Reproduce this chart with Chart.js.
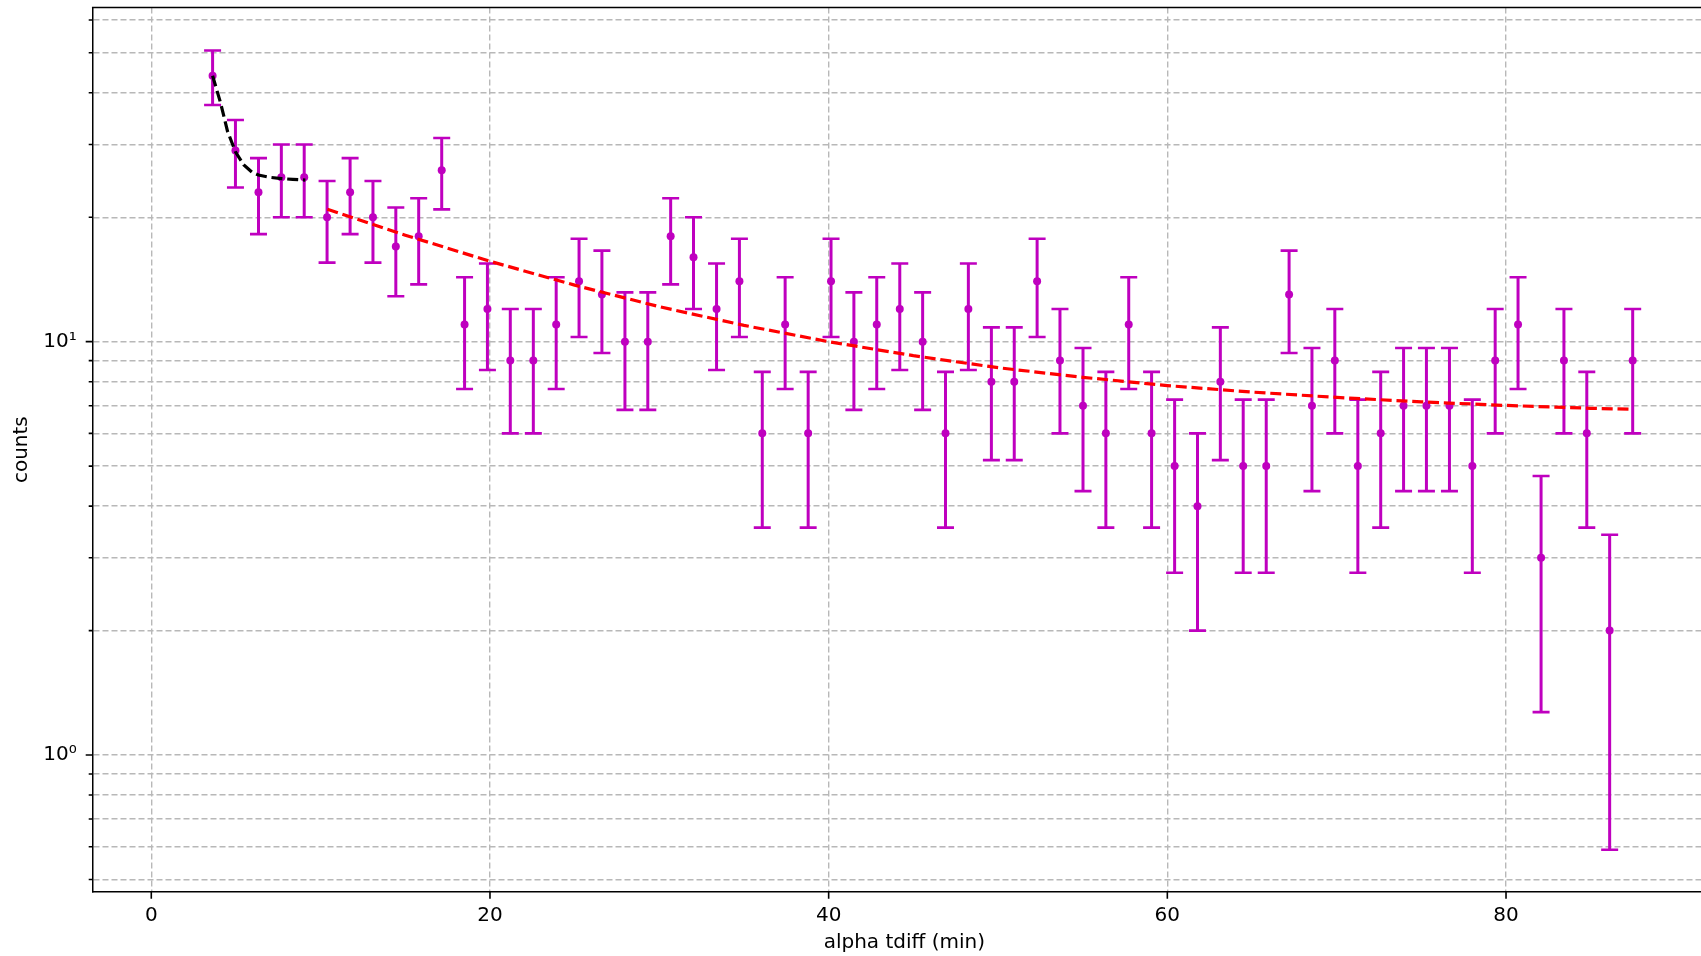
<!DOCTYPE html>
<html>
<head>
<meta charset="utf-8">
<script src="https://cdn.jsdelivr.net/npm/chart.js@4/dist/chart.umd.min.js"></script>
<style>
  body { margin: 0; overflow: hidden; background: #fff; }
  #wrap { width: 1720px; height: 956px; }
</style>
</head>
<body>
<div id="wrap"><canvas id="myChart" width="1720" height="956"></canvas></div>
<script>
// alpha tdiff histogram (bin centres in minutes) with counts and sqrt(N) errors
var binCenters = [3.62, 4.97, 6.33, 7.68, 9.03, 10.38, 11.74, 13.09, 14.44, 15.79,
    17.15, 18.50, 19.85, 21.20, 22.56, 23.91, 25.26, 26.61, 27.97, 29.32,
    30.67, 32.02, 33.38, 34.73, 36.08, 37.43, 38.79, 40.14, 41.49, 42.84,
    44.20, 45.55, 46.90, 48.25, 49.61, 50.96, 52.31, 53.66, 55.02, 56.37,
    57.72, 59.07, 60.43, 61.78, 63.13, 64.48, 65.84, 67.19, 68.54, 69.89,
    71.25, 72.60, 73.95, 75.30, 76.66, 78.01, 79.36, 80.71, 82.07, 83.42,
    84.77, 86.12, 87.48];
var counts = [44, 29, 23, 25, 25, 20, 23, 20, 17, 18,
    26, 11, 12, 9, 9, 11, 14, 13, 10, 10,
    18, 16, 12, 14, 6, 11, 6, 14, 10, 11,
    12, 10, 6, 12, 8, 8, 14, 9, 7, 6,
    11, 6, 5, 4, 8, 5, 5, 13, 7, 9,
    5, 6, 7, 7, 7, 5, 9, 11, 3, 9,
    6, 2, 9];
var countErr = [6.63, 5.39, 4.80, 5.00, 5.00, 4.47, 4.80, 4.47, 4.12, 4.24,
    5.10, 3.32, 3.46, 3.00, 3.00, 3.32, 3.74, 3.61, 3.16, 3.16,
    4.24, 4.00, 3.46, 3.74, 2.45, 3.32, 2.45, 3.74, 3.16, 3.32,
    3.46, 3.16, 2.45, 3.46, 2.83, 2.83, 3.74, 3.00, 2.65, 2.45,
    3.32, 2.45, 2.24, 2.00, 2.83, 2.24, 2.24, 3.61, 2.65, 3.00,
    2.24, 2.45, 2.65, 2.65, 2.65, 2.24, 3.00, 3.32, 1.73, 3.00,
    2.45, 1.41, 3.00];

// short-lived component fit
var fastFitX = [3.62, 4.10, 4.50, 4.97, 5.45, 5.95, 6.33, 6.95, 7.68, 8.35, 9.10];
var fastFitY = [44.0, 37.7, 32.3, 28.8, 26.8, 25.7, 25.3, 25.0, 24.8, 24.7, 24.6];

// long-lived component fit
var slowFitX = [10.40, 15, 20, 25, 30, 35, 40, 45, 50, 55, 60, 65, 70, 75, 80, 85, 87.48];
var slowFitY = [20.9, 18.1, 15.65, 13.7, 12.15, 10.95, 10.0, 9.25, 8.65, 8.2, 7.83, 7.55, 7.33, 7.15, 7.01, 6.9, 6.86];

var xTicks = [0, 20, 40, 60, 80];
var yTicks = [0.5, 0.6, 0.7, 0.8, 0.9, 1, 2, 3, 4, 5, 6, 7, 8, 9, 10, 20, 30, 40, 50, 60];
var yMajor = [1, 10];

var MAGENTA = "#bf00bf";

Chart.defaults.font.family = "'DejaVu Sans', sans-serif";
Chart.defaults.font.size = 20;
Chart.defaults.color = "#000";

function toXY(xs, ys) {
    return xs.map(function (v, i) { return { x: v, y: ys[i] }; });
}

//vertical error bars with caps, behind the markers
var errorBars = {
    id: "errorBars",
    beforeDatasetsDraw: function (chart) {
        var ctx = chart.ctx;
        var xs = chart.scales.x, ys = chart.scales.y;
        ctx.save();
        ctx.strokeStyle = MAGENTA;
        binCenters.forEach(function (t, i) {
            var px = xs.getPixelForValue(t);
            var top = ys.getPixelForValue(counts[i] + countErr[i]);
            var bot = ys.getPixelForValue(counts[i] - countErr[i]);
            ctx.lineWidth = 3;
            ctx.beginPath();
            ctx.moveTo(px, top);
            ctx.lineTo(px, bot);
            ctx.stroke();
            ctx.lineWidth = 2.6;
            ctx.beginPath();
            ctx.moveTo(px - 8.5, top);
            ctx.lineTo(px + 8.5, top);
            ctx.moveTo(px - 8.5, bot);
            ctx.lineTo(px + 8.5, bot);
            ctx.stroke();
        });
        ctx.restore();
    }
};

//top spine and outward tick marks
var frame = {
    id: "frame",
    afterDraw: function (chart) {
        var ctx = chart.ctx;
        var a = chart.chartArea;
        var xs = chart.scales.x, ys = chart.scales.y;
        ctx.save();
        ctx.strokeStyle = "#000";
        ctx.lineWidth = 1.5;
        ctx.beginPath();
        ctx.moveTo(a.left - 0.75, a.top);
        ctx.lineTo(a.right, a.top);
        ctx.stroke();
        ctx.lineWidth = 1.6;
        ctx.beginPath();
        yTicks.forEach(function (v) {
            var py = ys.getPixelForValue(v);
            var len = yMajor.indexOf(v) >= 0 ? 7 : 4;
            ctx.moveTo(a.left, py);
            ctx.lineTo(a.left - len, py);
        });
        xTicks.forEach(function (v) {
            var px = xs.getPixelForValue(v);
            ctx.moveTo(px, a.bottom);
            ctx.lineTo(px, a.bottom + 7);
        });
        ctx.stroke();
        ctx.restore();
    }
};

var ctx = document.getElementById("myChart").getContext("2d");
window.myChart = new Chart(ctx, {
    type: "scatter",
    data: {
        datasets: [
            {
                label: "data",
                data: toXY(binCenters, counts),
                backgroundColor: MAGENTA,
                borderColor: MAGENTA,
                pointRadius: 4,
                borderWidth: 0,
                showLine: false,
                order: 2
            },
            {
                label: "fast fit",
                data: toXY(fastFitX, fastFitY),
                showLine: true,
                borderColor: "#000",
                borderWidth: 3.2,
                borderDash: [11, 4.8],
                pointRadius: 0,
                fill: false,
                order: 1
            },
            {
                label: "slow fit",
                data: toXY(slowFitX, slowFitY),
                showLine: true,
                borderColor: "#ff0000",
                borderWidth: 3.2,
                borderDash: [11, 4.8],
                pointRadius: 0,
                fill: false,
                order: 1
            }
        ]
    },
    options: {
        responsive: false,
        animation: false,
        layout: { padding: { top: 7.6, right: 3, left: 0, bottom: 0 } },
        plugins: {
            legend: { display: false },
            tooltip: { enabled: false }
        },
        scales: {
            x: {
                type: "linear",
                min: -3.46,
                max: 92.4,
                afterBuildTicks: function (scale) {
                    scale.ticks = xTicks.map(function (v) { return { value: v }; });
                },
                afterFit: function (scale) {
                    scale.height = 64.3;
                    scale.paddingLeft = 0;
                    scale.paddingRight = 0;
                },
                ticks: { padding: 12.5, autoSkip: false, maxRotation: 0, color: "#000" },
                grid: { color: "#b8b8b8", lineWidth: 1.4, drawTicks: false },
                border: { display: true, color: "#000", width: 1.5, dash: [6, 3] },
                title: { display: true, text: "alpha tdiff (min)", color: "#000", padding: { top: 0, bottom: 1 } }
            },
            y: {
                type: "logarithmic",
                min: 0.467,
                max: 64.3,
                afterBuildTicks: function (scale) {
                    scale.ticks = yTicks.map(function (v) { return { value: v }; });
                },
                afterFit: function (scale) {
                    scale.width = 92.7;
                    scale.paddingTop = 0;
                    scale.paddingBottom = 0;
                },
                ticks: {
                    padding: 16,
                    autoSkip: false,
                    color: "#000",
                    callback: function (v) {
                        if (v === 1) return "10\u2070";
                        if (v === 10) return "10\u00b9";
                        return "";
                    }
                },
                grid: { color: "#b8b8b8", lineWidth: 1.4, drawTicks: false },
                border: { display: true, color: "#000", width: 1.5, dash: [6, 3] },
                title: { display: true, text: "counts", color: "#000", padding: { top: 9.7, bottom: 0 } }
            }
        }
    },
    plugins: [errorBars, frame]
});
</script>
</body>
</html>
